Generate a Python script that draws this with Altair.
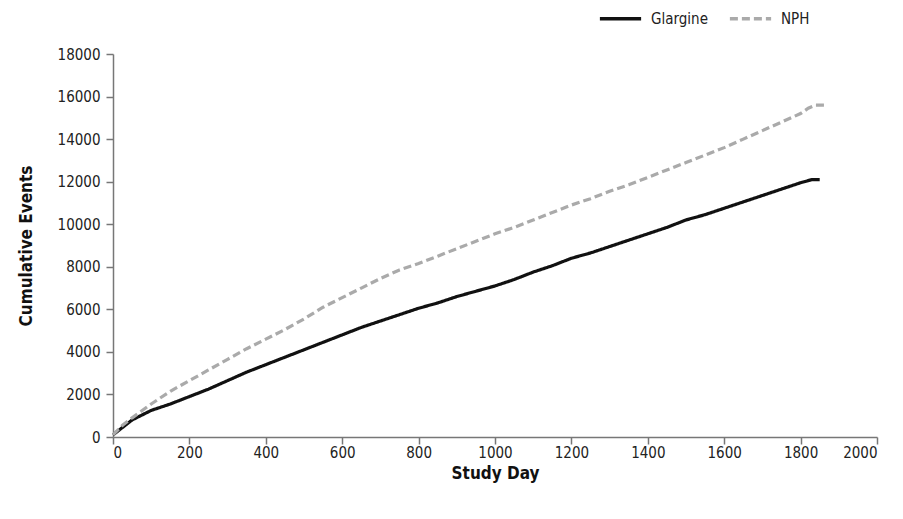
import altair as alt
import pandas as pd

glargine_day = [0, 25, 50, 100, 150, 200, 250, 300, 350, 400, 450, 500, 550, 600, 650, 700, 750, 800, 850, 900,
                950, 1000, 1050, 1100, 1150, 1200, 1250, 1300, 1350, 1400, 1450, 1500, 1550, 1600, 1650, 1700,
                1750, 1800, 1830, 1850]
glargine_val = [100, 450, 800, 1250, 1550, 1900, 2250, 2650, 3050, 3400, 3750, 4100, 4450, 4800, 5150, 5450,
                5750, 6050, 6300, 6600, 6850, 7100, 7400, 7750, 8050, 8400, 8650, 8950, 9250, 9550, 9850, 10200,
                10450, 10750, 11050, 11350, 11650, 11950, 12100, 12100]

nph_day = [0, 25, 50, 100, 150, 200, 250, 300, 350, 400, 450, 500, 550, 600, 650, 700, 750, 800, 850, 900,
           950, 1000, 1050, 1100, 1150, 1200, 1250, 1300, 1350, 1400, 1450, 1500, 1550, 1600, 1650, 1700,
           1750, 1800, 1820, 1840, 1870]
nph_val = [100, 550, 900, 1550, 2150, 2650, 3150, 3650, 4150, 4600, 5050, 5550, 6100, 6550, 7000, 7450,
           7850, 8150, 8500, 8850, 9200, 9550, 9850, 10200, 10550, 10900, 11200, 11550, 11850, 12200, 12550,
           12900, 13250, 13600, 14000, 14400, 14800, 15200, 15450, 15600, 15600]

series_names = ["Glargine", "NPH"]

df = pd.concat([
    pd.DataFrame({"day": glargine_day, "events": glargine_val, "series": "Glargine", "order": range(len(glargine_day))}),
    pd.DataFrame({"day": nph_day, "events": nph_val, "series": "NPH", "order": range(len(nph_day))}),
])

FONT = "Liberation Sans Narrow, DejaVu Sans Condensed, Roboto, sans-serif"

legend_kw = dict(orient="none", direction="horizontal", legendX=485, legendY=-58,
                 symbolType="stroke", symbolSize=1700, symbolStrokeWidth=3.5,
                 labelFontSize=15, labelColor="#222", columnPadding=14, labelOffset=8)

chart = alt.Chart(df).mark_line(strokeWidth=3.2, interpolate="linear").encode(
    x=alt.X("day:Q", title="Study Day",
            scale=alt.Scale(domain=[0, 2000], nice=False),
            axis=alt.Axis(values=list(range(0, 2001, 200)), format="d", grid=False, domainColor="#777",
                          tickColor="#777", tickSize=7, labelFontSize=15, titleFontSize=17,
                          labelColor="#222", titleColor="#111", titleFontWeight="bold",
                          titlePadding=5, labelPadding=1, domainWidth=1.5, tickWidth=1.5)),
    y=alt.Y("events:Q", title="Cumulative Events",
            scale=alt.Scale(domain=[0, 18000], nice=False),
            axis=alt.Axis(values=list(range(0, 18001, 2000)), format="d", grid=False, domainColor="#777",
                          tickColor="#777", tickSize=7, labelFontSize=15, titleFontSize=17,
                          labelColor="#222", titleColor="#111", titleFontWeight="bold",
                          titlePadding=22, labelPadding=6, domainWidth=1.5, tickWidth=1.5)),
    color=alt.Color("series:N", title=None,
                    scale=alt.Scale(domain=series_names, range=["#111111", "#aaaaaa"]),
                    legend=alt.Legend(**legend_kw)),
    strokeDash=alt.StrokeDash("series:N", title=None,
                              scale=alt.Scale(domain=series_names, range=[[1, 0], [8, 4]]),
                              legend=alt.Legend(**legend_kw)),
    order="order:Q",
).properties(
    width=764, height=383,
    autosize=alt.AutoSizeParams(type="none"),
    padding={"left": 105, "top": 46, "right": 18, "bottom": 74},
).configure(font=FONT).configure_view(stroke=None)

chart.save("out.html", embed_options={"renderer": "svg", "actions": False})
